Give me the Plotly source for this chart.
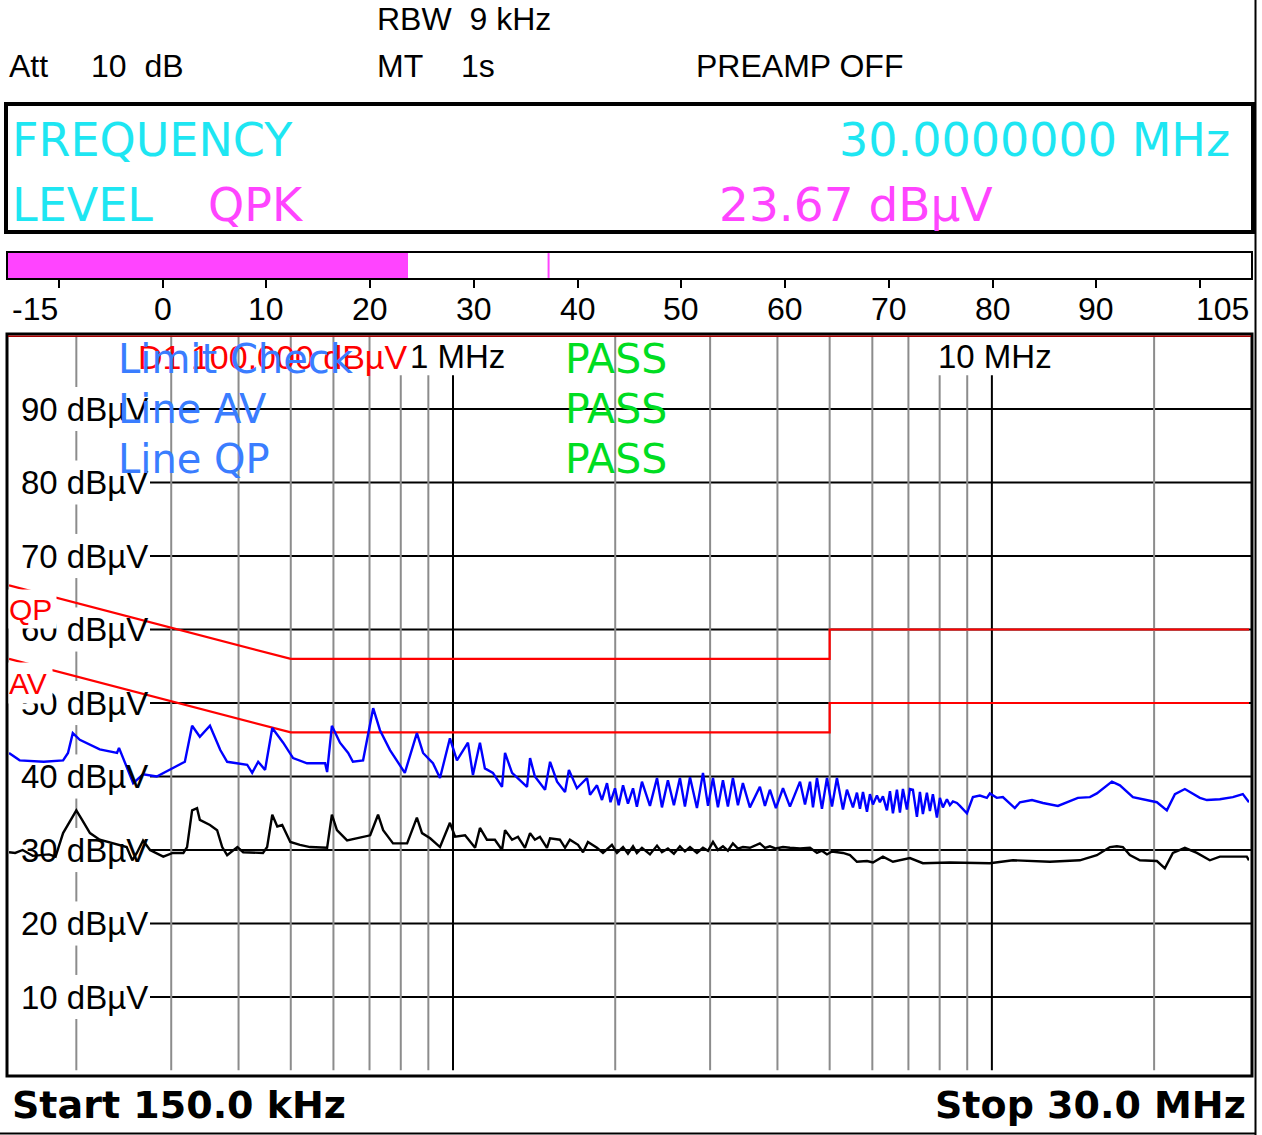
import numpy as np
import plotly.graph_objects as go

W, H = 1262, 1135


def px(x):
    return x / W


def py(y):
    return 1 - y / H


# ---------------- data ----------------
peak_freq_mhz = [
    0.150, 0.157, 0.174, 0.189, 0.193, 0.197, 0.203, 0.221, 0.238, 0.240,
    0.255, 0.266, 0.282, 0.298, 0.318, 0.328, 0.339, 0.354, 0.370, 0.381,
    0.415, 0.424, 0.435, 0.448, 0.462, 0.484, 0.505, 0.536, 0.579, 0.584,
    0.596, 0.617, 0.639, 0.652, 0.681, 0.711, 0.732, 0.764, 0.787, 0.814,
    0.857, 0.880, 0.918, 0.946, 0.987, 1.017, 1.066, 1.089, 1.122, 1.146,
    1.186, 1.233, 1.249, 1.287, 1.372, 1.390, 1.419, 1.482, 1.514, 1.560,
    1.614, 1.641, 1.698, 1.773, 1.796, 1.850, 1.890,
    1.931, 1.960, 1.998, 2.030, 2.068, 2.112, 2.158, 2.194, 2.242, 2.320,
    2.391, 2.442, 2.505, 2.570, 2.637, 2.694, 2.753, 2.836, 2.910, 2.973,
    3.037, 3.102, 3.169, 3.237, 3.307, 3.379, 3.451, 3.556, 3.711, 3.792,
    3.873, 3.974, 4.096, 4.220, 4.405, 4.500, 4.597, 4.656, 4.736, 4.838,
    4.943, 5.050, 5.158, 5.292, 5.383, 5.523, 5.618,
    5.691, 5.765, 5.864, 5.939, 6.016, 6.119, 6.197, 6.278, 6.386, 6.469,
    6.552, 6.665, 6.751, 6.838, 6.955, 7.045, 7.136, 7.259, 7.353, 7.447,
    7.575, 7.674, 7.772, 7.907, 8.009, 8.112, 8.252, 8.358, 8.467, 8.612,
    8.723, 8.988, 9.221, 9.501, 9.788, 9.914, 10.21, 10.48, 11.03, 11.27,
    11.87, 12.44, 13.26, 13.78, 14.44, 15.20, 15.66, 16.70, 17.28, 18.27,
    19.06, 20.24, 21.12, 21.86, 22.81, 24.32, 25.06, 26.49, 28.00, 29.22,
    30.0,
]
peak_dbuv = [
    43.2, 42.2, 42.0, 42.2, 43.2, 45.9, 45.0, 43.7, 43.2, 43.9,
    39.1, 40.3, 40.0, 40.9, 42.0, 46.9, 45.4, 46.9, 43.6, 42.0,
    41.6, 40.5, 42.0, 40.9, 46.6, 44.6, 42.5, 41.8, 41.8, 40.6,
    46.9, 44.6, 43.2, 42.0, 42.2, 49.3, 46.3, 43.6, 42.2, 40.5,
    45.9, 43.2, 41.8, 39.8, 45.2, 42.2, 44.6, 40.2, 44.6, 41.1,
    40.5, 38.6, 43.2, 40.5, 38.6, 42.5, 40.0, 38.2, 42.0, 39.3,
    37.9, 40.9, 38.4, 39.8, 37.5, 38.8, 36.8,
    39.1, 36.5, 38.4, 36.1, 38.8, 36.3, 38.4, 35.9, 39.3, 36.0,
    39.8, 35.8, 39.5, 36.1, 39.8, 35.9, 39.9, 35.7, 40.5, 36.0,
    39.8, 35.8, 39.5, 35.9, 39.8, 36.1, 39.1, 35.8, 38.6, 36.0,
    38.2, 35.7, 38.4, 35.9, 39.3, 36.2, 39.3, 35.8, 39.8, 35.6,
    39.8, 35.9, 39.8, 35.5, 38.2, 35.8, 37.8,
    35.6, 37.9, 35.2, 37.6, 36.2, 37.4, 36.5, 37.3, 35.4, 38.0,
    35.0, 38.2, 35.1, 38.3, 35.5, 38.3, 38.2, 34.5, 37.9, 34.9,
    37.8, 35.3, 37.6, 34.4, 37.1, 35.8, 36.9, 36.1, 36.6, 36.4,
    36.0, 35.0, 37.2, 37.4, 37.1, 37.7, 37.1, 37.2, 35.7, 36.5,
    36.8, 36.4, 36.0, 36.5, 37.1, 37.2, 37.7, 39.3, 38.8, 37.2,
    36.9, 36.5, 35.4, 37.6, 38.3, 37.1, 36.8, 36.9, 37.2, 37.6,
    36.5,
]

avg_freq_mhz = [
    0.150, 0.154, 0.159, 0.166, 0.178, 0.183, 0.189, 0.200, 0.205, 0.212,
    0.221, 0.234, 0.248, 0.254, 0.259, 0.266, 0.274, 0.290, 0.302, 0.316,
    0.321, 0.328, 0.335, 0.339, 0.354, 0.365, 0.373, 0.381, 0.398, 0.408,
    0.426, 0.444, 0.452, 0.462, 0.472, 0.482, 0.499, 0.520, 0.543, 0.567,
    0.584, 0.596, 0.609, 0.636, 0.664, 0.702, 0.726, 0.742, 0.774, 0.822,
    0.857, 0.876, 0.907, 0.946, 0.987, 1.009, 1.053, 1.099, 1.122, 1.156,
    1.196, 1.233, 1.249, 1.287, 1.320, 1.360, 1.390, 1.419, 1.450, 1.494,
    1.514, 1.579, 1.614, 1.648, 1.706, 1.743, 1.780, 1.850, 1.898, 1.972,
    2.015, 2.068, 2.112, 2.158, 2.194, 2.242, 2.320, 2.391, 2.442, 2.505,
    2.570, 2.637, 2.694, 2.753, 2.836, 2.910, 2.973, 3.037, 3.102, 3.169,
    3.237, 3.307, 3.379, 3.451, 3.556, 3.711, 3.792, 3.873, 3.974, 4.096,
    4.220, 4.405, 4.597, 4.736, 4.838, 4.943, 5.050, 5.292, 5.453, 5.618,
    5.864, 6.016, 6.278, 6.552, 7.045, 7.447, 8.358, 9.914, 10.94, 12.81,
    14.56, 15.66, 16.56, 17.06, 17.50, 18.03, 18.82, 20.24, 20.94, 21.67,
    22.81, 24.01, 25.38, 26.49, 29.72, 30.0,
]
avg_dbuv = [
    29.7, 29.6, 30.0, 29.2, 29.4, 29.1, 32.3, 35.4, 34.1, 32.3,
    31.4, 30.9, 30.4, 28.6, 29.6, 31.3, 30.0, 29.1, 29.6, 29.6,
    30.4, 35.4, 35.7, 34.1, 33.4, 32.7, 30.4, 29.3, 30.4, 29.7,
    29.7, 29.6, 30.4, 34.8, 33.2, 33.4, 31.1, 30.7, 30.4, 30.3,
    30.3, 34.8, 32.7, 31.3, 31.6, 32.0, 34.8, 32.7, 30.9, 30.9,
    34.4, 32.3, 31.6, 30.4, 33.7, 31.8, 32.0, 30.3, 33.0, 31.4,
    31.4, 30.0, 32.7, 31.4, 31.8, 30.3, 32.3, 31.4, 31.8, 30.3,
    31.6, 31.4, 30.3, 31.4, 30.7, 29.7, 31.1, 30.3, 29.6, 30.7,
    29.6, 30.4, 29.5, 30.5, 29.6, 30.3, 29.4, 30.6, 29.7, 30.2,
    29.5, 30.5, 29.8, 30.4, 29.6, 30.3, 29.9, 31.1, 30.0, 30.5,
    29.9, 30.9, 30.2, 30.4, 30.3, 30.9, 30.3, 30.5, 30.2, 30.4,
    30.3, 30.2, 30.3, 29.6, 29.9, 29.4, 29.8, 29.6, 29.3, 28.4,
    28.5, 28.3, 29.1, 28.4, 28.9, 28.2, 28.3, 28.2, 28.6, 28.4,
    28.6, 29.3, 30.4, 30.5, 30.4, 29.3, 28.6, 28.5, 27.5, 29.6,
    30.3, 29.6, 28.6, 29.1, 29.1, 28.6,
]

limit_freq_mhz = [0.15, 0.5, 5.0, 5.0, 30.0]
limit_qp_dbuv = [66, 56, 56, 60, 60]
limit_av_dbuv = [56, 46, 46, 50, 50]

display_line_d1 = 100.0
level_grid_dbuv = [90, 80, 70, 60, 50, 40, 30, 20, 10]
grid_freqs_gray_full = [0.3, 0.4, 0.5, 0.6, 0.7, 2, 3, 4, 5, 6, 7, 20]
grid_freqs_gray_short = [0.8, 0.9, 8, 9]
grid_freqs_black = [1, 10]
grid_freq_200k = 0.2

meter_level = 23.67
meter_marker = 37.2
meter_range = [-15, 105]
meter_tick_vals = [-10, 0, 10, 20, 30, 40, 50, 60, 70, 80, 90, 100]
meter_tick_text = ["", "0", "10", "20", "30", "40", "50", "60", "70", "80", "90", ""]

# ---------------- figure ----------------
NARROW = "Liberation Sans, Arial, sans-serif"
WIDE = "DejaVu Sans, Verdana, sans-serif"

fig = go.Figure()

fig.add_trace(go.Scatter(x=limit_freq_mhz, y=limit_qp_dbuv, mode="lines",
                         line=dict(color="#ff0000", width=2.2), hoverinfo="skip"))
fig.add_trace(go.Scatter(x=limit_freq_mhz, y=limit_av_dbuv, mode="lines",
                         line=dict(color="#ff0000", width=2.2), hoverinfo="skip"))
fig.add_trace(go.Scatter(x=avg_freq_mhz, y=avg_dbuv, mode="lines",
                         line=dict(color="#000000", width=2.4), hoverinfo="skip"))
fig.add_trace(go.Scatter(x=peak_freq_mhz, y=peak_dbuv, mode="lines",
                         line=dict(color="#0000ff", width=2.4), hoverinfo="skip"))

# level meter bar
fig.add_trace(go.Bar(x=[meter_level - meter_range[0]], base=[meter_range[0]], y=[0],
                     orientation="h", width=1, marker=dict(color="#ff44ff", line=dict(width=0)),
                     xaxis="x2", yaxis="y2", hoverinfo="skip"))

shapes = []

# vertical grid lines
for f in grid_freqs_gray_full:
    shapes.append(dict(type="line", xref="x", yref="y", x0=f, x1=f, y0=0, y1=100,
                       line=dict(color="#8c8c8c", width=2), layer="below"))
for f in grid_freqs_gray_short:
    shapes.append(dict(type="line", xref="x", yref="y", x0=f, x1=f, y0=0, y1=94.6,
                       line=dict(color="#8c8c8c", width=2), layer="below"))
for f in grid_freqs_black:
    shapes.append(dict(type="line", xref="x", yref="y", x0=f, x1=f, y0=0, y1=94.6,
                       line=dict(color="#000000", width=2), layer="below"))
# 200 kHz line broken by the level labels
segs = [(93, 100)] + [(lv - 7, lv - 3) for lv in level_grid_dbuv[:-1]] + [(0, 7)]
for a, b in segs:
    shapes.append(dict(type="line", xref="x", yref="y", x0=grid_freq_200k, x1=grid_freq_200k,
                       y0=a, y1=b, line=dict(color="#8c8c8c", width=2), layer="below"))
# horizontal grid lines
for lv in level_grid_dbuv:
    shapes.append(dict(type="line", xref="paper", yref="y", x0=px(150), x1=px(1251), y0=lv, y1=lv,
                       line=dict(color="#000000", width=2), layer="below"))

# plot frame + display line D1
shapes.append(dict(type="rect", xref="paper", yref="paper", x0=px(7), x1=px(1252), y0=py(1076), y1=py(334),
                   line=dict(color="#000000", width=3), layer="above"))
shapes.append(dict(type="line", xref="paper", yref="y", x0=px(8), x1=px(1251), y0=display_line_d1,
                   y1=display_line_d1, line=dict(color="#a80000", width=3), layer="above"))

# info box
shapes.append(dict(type="rect", xref="paper", yref="paper", x0=px(6), x1=px(1253), y0=py(232), y1=py(104),
                   line=dict(color="#000000", width=4)))
# meter box
shapes.append(dict(type="rect", xref="x2 domain", yref="y2 domain", x0=0, x1=1, y0=0, y1=1,
                   line=dict(color="#000000", width=2), layer="above"))
shapes.append(dict(type="line", xref="x2", yref="y2 domain", x0=meter_marker, x1=meter_marker, y0=0.04, y1=0.96,
                   line=dict(color="#ff44ff", width=2)))
# page edges
shapes.append(dict(type="line", xref="paper", yref="paper", x0=px(1255.5), x1=px(1255.5), y0=0, y1=1,
                   line=dict(color="#000000", width=2)))
shapes.append(dict(type="line", xref="paper", yref="paper", x0=0, x1=px(1256), y0=py(1133.5), y1=py(1133.5),
                   line=dict(color="#000000", width=2)))

annotations = []


def ann(text, x, y, size, color="#000000", family=NARROW, xanchor="left", yref="paper", bg=None):
    d = dict(text=text, x=px(x), y=(py(y) if yref == "paper" else y), xref="paper", yref=yref,
             xanchor=xanchor, yanchor="middle", showarrow=False,
             font=dict(size=size, color=color, family=family), borderpad=0)
    if bg:
        d["bgcolor"] = bg
    annotations.append(d)


# header
ann("RBW  9 kHz", 376, 19, 32)
ann("Att", 8, 66, 32)
ann("10  dB", 90, 66, 32)
ann("MT", 376, 66, 32)
ann("1s", 460, 66, 32)
ann("PREAMP OFF", 695, 66, 32)

# info box texts
CYAN = "#1ee6f2"
MAG = "#ff44ff"
ann("FREQUENCY", 11, 140, 46, CYAN, WIDE)
ann("30.0000000 MHz", 1231, 140, 46, CYAN, WIDE, xanchor="right")
ann("LEVEL", 11, 205, 46, CYAN, WIDE)
ann("QPK", 207, 205, 46, MAG, WIDE)
ann("23.67 dBµV", 718, 205, 47, MAG, WIDE)

# meter scale labels (placed on the meter's own axis)
for v, t in zip(meter_tick_vals, meter_tick_text):
    if t:
        annotations.append(dict(text=t, x=v, y=py(309), xref="x2", yref="paper", xanchor="center",
                                yanchor="middle", showarrow=False,
                                font=dict(size=32, color="#000000", family=NARROW)))
ann("-15", 11, 309, 32)
ann("105", 1250, 309, 32, xanchor="right")

# level labels
for lv in level_grid_dbuv:
    annotations.append(dict(text=f"{lv} dBµV", x=px(19), y=lv, xref="paper", yref="y", xanchor="left",
                            yanchor="middle", showarrow=False,
                            font=dict(size=33, color="#000000", family=NARROW)))

# limit line labels (white background hides part of the level label and limit line)
annotations.append(dict(text="QP", x=px(8), y=py(589), xref="paper", yref="paper", xanchor="left",
                        yanchor="top", showarrow=False, bgcolor="#ffffff", borderpad=0,
                        width=47, height=38, align="left", valign="middle",
                        font=dict(size=30, color="#ff0000", family=NARROW)))
annotations.append(dict(text="AV", x=px(8), y=py(662), xref="paper", yref="paper", xanchor="left",
                        yanchor="top", showarrow=False, bgcolor="#ffffff", borderpad=0,
                        width=43, height=40, align="left", valign="middle",
                        font=dict(size=30, color="#ff0000", family=NARROW)))

# top labels inside plot
ann("D1 100.000 dBµV", 137, 357, 34, "#ff0000")
ann("1 MHz", 409, 357, 33)
ann("10 MHz", 937, 357, 33)
BLUE_T = "#3a7dff"
GREEN = "#00dd22"
ann("Limit Check", 117, 359, 40, BLUE_T, WIDE)
ann("Line AV", 117, 409, 40, BLUE_T, WIDE)
ann("Line QP", 117, 459, 40, BLUE_T, WIDE)
for yy in (359, 409, 459):
    ann("PASS", 564, yy, 41, GREEN, WIDE)

# bottom
ann("<b>Start 150.0 kHz</b>", 11, 1105, 38, "#000000", WIDE)
ann("<b>Stop 30.0 MHz</b>", 1247, 1105, 38, "#000000", WIDE, xanchor="right")

fig.update_layout(
    width=W, height=H,
    margin=dict(l=0, r=0, t=0, b=0),
    paper_bgcolor="#ffffff", plot_bgcolor="#ffffff",
    showlegend=False,
    shapes=shapes,
    annotations=annotations,
    xaxis=dict(type="log", range=[np.log10(0.15), np.log10(30)], domain=[px(9), px(1249)],
               visible=False, anchor="y"),
    yaxis=dict(range=[0, 100], domain=[py(1070.5), py(335.5)], visible=False, anchor="x"),
    xaxis2=dict(range=meter_range, domain=[px(7), px(1252)], anchor="y2",
                tickvals=meter_tick_vals, ticktext=[""] * len(meter_tick_vals), ticks="outside",
                ticklen=8, tickwidth=2, tickcolor="#000000", showgrid=False, zeroline=False,
                showline=False),
    yaxis2=dict(range=[-0.5, 0.5], domain=[py(279), py(252)], anchor="x2", visible=False),
    bargap=0,
)

fig.write_html("out.html", config={"displayModeBar": False},
               post_script="document.body.style.margin='0';document.body.style.overflow='hidden';")
